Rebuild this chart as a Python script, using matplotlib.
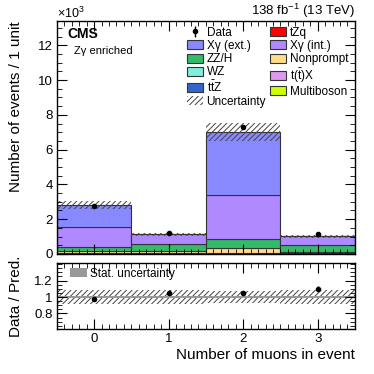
import numpy as np
import matplotlib
matplotlib.use("Agg")
import matplotlib.pyplot as plt
from matplotlib.patches import Patch
from matplotlib.ticker import MultipleLocator

plt.rcParams['font.family'] = ['Liberation Sans', 'DejaVu Sans']
plt.rcParams['hatch.linewidth'] = 0.7
plt.rcParams['mathtext.fontset'] = 'custom'
plt.rcParams['mathtext.rm'] = 'Liberation Sans'
plt.rcParams['mathtext.it'] = 'Liberation Sans:italic'

# bins: number of muons in event
n_muons = [0, 1, 2, 3]

# stacked predictions in thousands of events, bottom -> top
multiboson = [0.010, 0.010, 0.010, 0.010]
tzq = [0.005, 0.005, 0.005, 0.005]
ttx = [0.010, 0.010, 0.010, 0.010]
ttz = [0.010, 0.015, 0.010, 0.020]
wz = [0.015, 0.030, 0.025, 0.030]
nonprompt = [0.100, 0.100, 0.300, 0.030]
zzh = [0.230, 0.390, 0.480, 0.420]
xg_int = [1.150, 0.570, 2.530, 0.500]
xg_ext = [1.310, 0.000, 3.630, 0.000]

data = [2.77, 1.19, 7.32, 1.13]
rel_syst = [0.082, 0.082, 0.075, 0.082]
rel_stat = [0.012, 0.012, 0.010, 0.014]

stack = [
    (multiboson, "Multiboson", "#ccff00"),
    (tzq, "tZq", "#ff0000"),
    (ttx, r"t($\bar{\rm t}$)X", "#dd99ee"),
    (ttz, r"t$\bar{\rm t}$Z", "#3366cc"),
    (wz, "WZ", "#80eed8"),
    (nonprompt, "Nonprompt", "#ffdd88"),
    (zzh, "ZZ/H", "#33bb6a"),
    (xg_int, "X\u03b3 (int.)", "#b088ff"),
    (xg_ext, "X\u03b3 (ext.)", "#8888ff"),
]

x = np.array(n_muons)
fig = plt.figure(figsize=(3.74, 3.74), dpi=100)
ax = fig.add_axes([0.152, 0.321, 0.797, 0.623])
rax = fig.add_axes([0.152, 0.120, 0.797, 0.176])

bottom = np.zeros(len(x))
handles = {}
for vals, name, col in stack:
    vals = np.array(vals)
    ax.bar(x, vals, width=1.0, bottom=bottom, color=col, edgecolor="#333333", linewidth=0.8)
    handles[name] = Patch(facecolor=col, edgecolor="#333333", linewidth=0.8)
    bottom += vals
total = bottom

unc = total * np.array(rel_syst)
ax.bar(x, 2 * unc, width=1.0, bottom=total - unc, fill=False, hatch="//////",
       edgecolor="#444444", linewidth=0)
handles["Uncertainty"] = Patch(fill=False, hatch="//////", edgecolor="#444444", linewidth=0)

data = np.array(data)
eb = ax.errorbar(x, data, yerr=np.sqrt(data * 1000) / 1000, fmt="o", color="black",
                 markersize=3, elinewidth=1, capsize=0)
handles["Data"] = eb

ax.set_xlim(-0.5, 3.5)
ax.set_ylim(0, 13.4)
ax.yaxis.set_major_locator(MultipleLocator(2))
ax.yaxis.set_minor_locator(MultipleLocator(0.5))
ax.xaxis.set_major_locator(MultipleLocator(1))
ax.xaxis.set_minor_locator(MultipleLocator(0.1))
ax.set_xticklabels([])
ax.text(0.0, 1.0, r"$\times$10$^{3}$", transform=ax.transAxes, fontsize=9, va="bottom", ha="left")
ax.text(1.0, 1.004, r"138 fb$^{-1}$ (13 TeV)", transform=ax.transAxes, fontsize=9.5, va="bottom", ha="right")
ax.text(0.035, 0.975, "CMS", transform=ax.transAxes, fontsize=10, fontweight="bold", va="top")
ax.text(0.058, 0.893, "Z\u03b3 enriched", transform=ax.transAxes, fontsize=8, va="top")

order = ["Data", "X\u03b3 (ext.)", "ZZ/H", "WZ", r"t$\bar{\rm t}$Z", "Uncertainty",
         "tZq", "X\u03b3 (int.)", "Nonprompt", r"t($\bar{\rm t}$)X", "Multiboson"]
leg = ax.legend([handles[k] for k in order], order, ncol=2, loc="upper left",
                bbox_to_anchor=(0.437, 0.975), frameon=False, fontsize=8.5,
                handlelength=1.35, handleheight=0.8, handletextpad=0.3,
                columnspacing=0.35, labelspacing=0.1, borderaxespad=0.0, borderpad=0.0)

# ratio panel
centers = x
edges = np.append(x - 0.5, x[-1] + 0.5)
syst = np.array(rel_syst)
stat = np.array(rel_stat)
rax.stairs(1 + syst, edges, baseline=1 - syst, fill=True, facecolor="none",
           hatch="//////", edgecolor="#444444", linewidth=0)
rax.stairs(1 + stat, edges, baseline=1 - stat, fill=True, color="#999999", linewidth=0,
           label="Stat. uncertainty")
ratio = data / total
rerr = np.sqrt(data * 1000) / 1000 / total
rax.errorbar(centers, ratio, yerr=rerr, fmt="o", color="black", markersize=3,
             elinewidth=1, capsize=0)
rax.legend(loc="upper left", bbox_to_anchor=(0.045, 0.93), frameon=False, fontsize=8.5,
           handlelength=1.4, handleheight=0.8, handletextpad=0.3,
           borderaxespad=0.0, borderpad=0.0)
rax.set_xlim(-0.5, 3.5)
rax.set_ylim(0.61, 1.41)
rax.set_yticks([0.8, 1.0, 1.2])
rax.set_yticklabels(["0.8", "1", "1.2"])
rax.yaxis.set_minor_locator(MultipleLocator(0.05))
rax.xaxis.set_major_locator(MultipleLocator(1))
rax.xaxis.set_minor_locator(MultipleLocator(0.1))
rax.set_xlabel("Number of muons in event", fontsize=11, loc="right", labelpad=2)
rax.set_ylabel("Data / Pred.", fontsize=11)

for a in (ax, rax):
    a.tick_params(which="both", direction="in", top=True, right=True, labelsize=9.5, pad=3)
    a.tick_params(which="major", length=7)
    a.tick_params(which="minor", length=3.5)
    for s in a.spines.values():
        s.set_linewidth(1.0)

ax.set_ylabel("Number of events / 1 unit", fontsize=11, loc="top")
ax.yaxis.set_label_coords(-0.115, 1.0)
rax.yaxis.set_label_coords(-0.115, 0.5)

fig.savefig("out.png", dpi=100)
